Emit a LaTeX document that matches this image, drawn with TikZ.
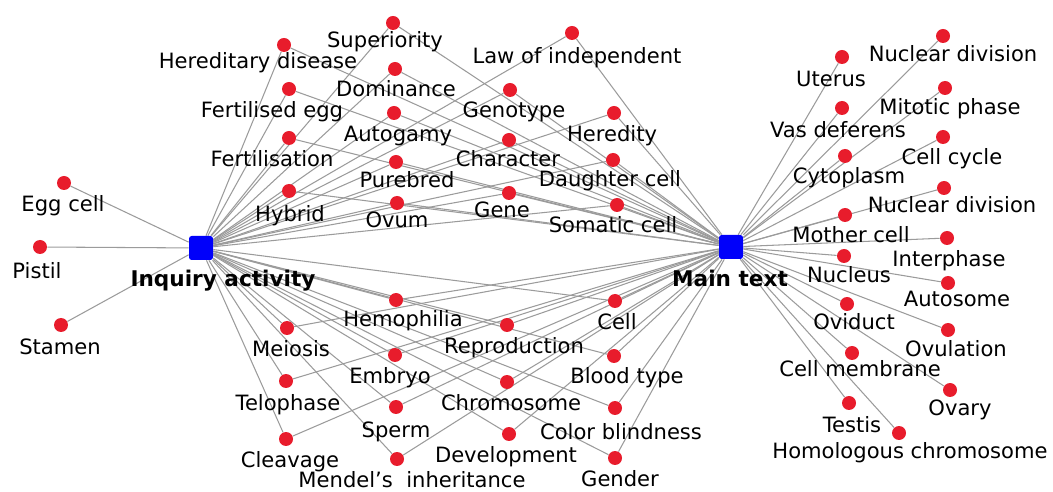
\documentclass[tikz,border=0pt]{standalone}
\usepackage{fontspec}
\setmainfont{DejaVu Sans}
\usetikzlibrary{backgrounds}
\definecolor{dotred}{RGB}{232,28,44}
\definecolor{hubblue}{RGB}{0,0,250}
\definecolor{linkgray}{RGB}{155,155,155}
\tikzset{
	concept/.style={circle,fill=dotred,inner sep=0pt,minimum size=0.28cm},
	hub/.style={rectangle,rounded corners=1.5pt,fill=hubblue,inner sep=0pt,minimum size=0.48cm},
	term/.style={anchor=base,inner sep=0pt,font=\fontsize{12}{14}\selectfont},
	hubterm/.style={anchor=base,inner sep=0pt,font=\fontsize{12.3}{14}\selectfont\bfseries},
	link/.style={draw=linkgray,line width=0.6pt}
}
\begin{document}
\begin{tikzpicture}[x=0.02cm,y=-0.02cm]
	\useasboundingbox (0,0) rectangle (1053,492);
	% draw hubs
	\node[hub] (iq) at (201,248) {};
	\node[hub] (mt) at (731,247) {};
	\node[hubterm] (liq) at (223,287) {Inquiry activity};
	\node[hubterm] (lmt) at (730,287) {Main text};
	% draw concepts of the inquiry activity only
	\foreach \n/\x/\y/\lx/\ly/\txt in {
		egg/64/183/63/212/Egg cell,
		pis/40/247/37/279/Pistil,
		sta/61/325/60/355/Stamen}
	{
		\node[concept] (\n) at (\x,\y) {};
		\node[term] (l\n) at (\lx,\ly) {\txt};
	}
	% draw shared concepts
	\foreach \n/\x/\y/\lx/\ly/\txt in {
		sup/393/23/385/48/Superiority,
		hdi/284/45/258/69/Hereditary disease,
		law/572/33/577/64/Law of independent,
		dom/395/69/396/97/Dominance,
		feg/289/89/272/118/Fertilised egg,
		gty/510/90/514/118/Genotype,
		aut/394/113/398/142/Autogamy,
		hdy/614/113/612/142/Heredity,
		fer/289/138/272/167/Fertilisation,
		cha/509/140/508/167/Character,
		pur/396/162/407/188/Purebred,
		dau/613/160/610/187/Daughter cell,
		hyb/289/191/290/222/Hybrid,
		gne/509/193/502/218/Gene,
		ovu/397/203/397/228/Ovum,
		som/617/205/613/233/Somatic cell,
		hem/396/300/403/327/Hemophilia,
		cel/615/301/617/330/Cell,
		mei/287/328/291/357/Meiosis,
		rep/507/325/514/354/Reproduction,
		emb/395/355/390/384/Embryo,
		blo/614/356/627/384/Blood type,
		tel/286/381/288/411/Telophase,
		chr/507/382/511/411/Chromosome,
		spe/396/407/396/438/Sperm,
		col/615/408/621/439/Color blindness,
		cle/286/439/290/467/Cleavage,
		dev/509/434/506/462/Development,
		men/397/459/412/487/Mendel's~ inheritance,
		gdr/615/458/620/486/Gender}
	{
		\node[concept] (\n) at (\x,\y) {};
		\node[term] (l\n) at (\lx,\ly) {\txt};
	}
	% draw concepts of the main text only
	\foreach \n/\x/\y/\lx/\ly/\txt in {
		nda/943/36/953/62/Nuclear division,
		ute/842/57/831/87/Uterus,
		mit/945/88/950/115/Mitotic phase,
		vas/842/108/838/138/Vas deferens,
		cyc/943/137/952/165/Cell cycle,
		cyt/845/156/849/184/Cytoplasm,
		ndb/944/188/952/213/Nuclear division,
		mot/845/215/851/243/Mother cell,
		int/947/238/949/267/Interphase,
		nuc/844/256/849/283/Nucleus,
		aus/948/283/957/307/Autosome,
		ovi/847/304/854/330/Oviduct,
		ovl/948/330/956/357/Ovulation,
		mem/852/353/860/377/Cell membrane,
		ovy/950/390/960/416/Ovary,
		tes/849/403/852/433/Testis,
		hom/899/433/910/458/Homologous chromosome}
	{
		\node[concept] (\n) at (\x,\y) {};
		\node[term] (l\n) at (\lx,\ly) {\txt};
	}
	% draw links behind everything
	\begin{pgfonlayer}{background}
		\foreach \n in {egg,pis,sta,sup,hdi,law,dom,feg,gty,aut,hdy,fer,cha,pur,dau,hyb,gne,ovu,som,hem,cel,mei,rep,emb,blo,tel,chr,spe,col,cle,dev,men,gdr}
		\draw[link] (iq) -- (\n);
		\foreach \n in {sup,hdi,law,dom,feg,gty,aut,hdy,fer,cha,pur,dau,hyb,gne,ovu,som,hem,cel,mei,rep,emb,blo,tel,chr,spe,col,cle,dev,men,gdr,nda,ute,mit,vas,cyc,cyt,ndb,mot,int,nuc,aus,ovi,ovl,mem,ovy,tes,hom}
		\draw[link] (mt) -- (\n);
	\end{pgfonlayer}
\end{tikzpicture}
\end{document}
